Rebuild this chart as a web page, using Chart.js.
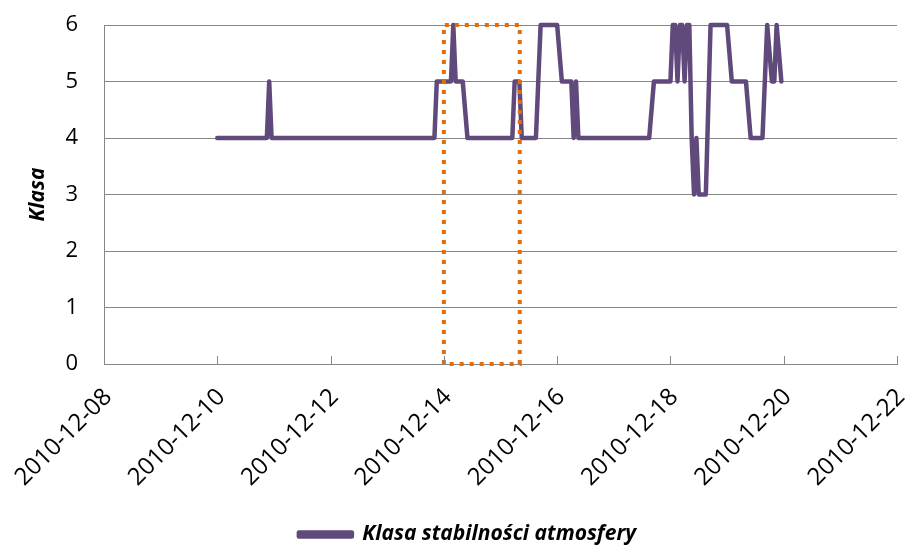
<!DOCTYPE html>
<html>
<head>
<meta charset="utf-8">
<script src="https://cdn.jsdelivr.net/npm/chart.js@4"></script>
<style>
  html, body { margin: 0; padding: 0; background: #fff; }
  #wrap { width: 906px; height: 545px; }
</style>
</head>
<body>
<div id="wrap"><canvas id="chart" width="906" height="545"></canvas></div>
<script>
// hours counted from 2010-12-10 00:00, and the class at that hour
const hours = [0, 21, 22, 23, 92, 93, 99, 100, 101, 104, 106, 125, 126, 128, 129, 135, 137, 144, 146,
    150, 151, 152, 153, 183, 185, 192, 193, 194, 195, 196, 197, 198, 199, 200, 201, 202, 203, 204,
    207, 209, 216, 218, 224, 226, 231, 233, 235, 236, 237, 239];
const classes = [4, 4, 5, 4, 4, 5, 5, 6, 5, 5, 4, 4, 5, 5, 4, 4, 6, 6, 5,
    5, 4, 5, 4, 4, 5, 5, 6, 6, 5, 6, 6, 5, 6, 6, 4, 3, 4, 3,
    3, 6, 6, 5, 5, 4, 4, 6, 5, 5, 6, 5];

const startDay = 10;              // day of December where the series starts
const tickDays = [8, 10, 12, 14, 16, 18, 20, 22];
const tickLabels = ["2010-12-08", "2010-12-10", "2010-12-12", "2010-12-14",
    "2010-12-16", "2010-12-18", "2010-12-20", "2010-12-22"];
const yTicks = [0, 1, 2, 3, 4, 5, 6];

// highlighted period (days of December) and its class range
const boxDays = [14.0, 15.34];
const boxClasses = [0, 6];

const seriesName = "Klasa stabilności atmosfery";
const lineColor = "#604a7b";
const boxColor = "#e46c0a";
const gridColor = "#868686";
const fontFamily = "'Open Sans', Lato, sans-serif";

let points = hours.map((h, i) => ({ x: startDay + h / 24, y: classes[i] }));
let boxPoints = [
    { x: boxDays[0], y: boxClasses[0] },
    { x: boxDays[0], y: boxClasses[1] },
    { x: boxDays[1], y: boxClasses[1] },
    { x: boxDays[1], y: boxClasses[0] },
    { x: boxDays[0], y: boxClasses[0] }
];

// small tick marks pointing up into the plot from the x axis
const innerTicks = {
    id: 'innerTicks',
    afterDraw(chart) {
        const ctx = chart.ctx;
        const x = chart.scales.x;
        const bottom = chart.chartArea.bottom;
        ctx.save();
        ctx.strokeStyle = gridColor;
        ctx.lineWidth = 1;
        tickDays.forEach(d => {
            let px = Math.round(x.getPixelForValue(d)) + 0.5;
            ctx.beginPath();
            ctx.moveTo(px, bottom);
            ctx.lineTo(px, bottom - 8);
            ctx.stroke();
        });
        ctx.restore();
    }
};

new Chart(document.getElementById('chart'), {
    type: 'line',
    data: {
        datasets: [
            {
                label: 'box',
                data: boxPoints,
                borderColor: boxColor,
                borderWidth: 4,
                borderDash: [4, 6],
                borderCapStyle: 'butt',
                pointRadius: 0,
                fill: false,
                tension: 0,
                clip: false
            },
            {
                label: seriesName,
                data: points,
                borderColor: lineColor,
                backgroundColor: lineColor,
                borderWidth: 4.5,
                borderJoinStyle: 'round',
                borderCapStyle: 'round',
                pointRadius: 0,
                fill: false,
                tension: 0,
                clip: false
            }
        ]
    },
    options: {
        responsive: false,
        animation: false,
        layout: { padding: { left: 38, right: 9, top: 25, bottom: -10 } },
        scales: {
            x: {
                type: 'linear',
                min: tickDays[0],
                max: tickDays[tickDays.length - 1],
                afterBuildTicks: s => { s.ticks = tickDays.map(v => ({ value: v })); },
                afterFit: s => { s.height = 159; s.paddingLeft = 0; s.paddingRight = 0; },
                grid: { display: false, drawTicks: false },
                border: { display: true, color: gridColor, width: 1 },
                ticks: {
                    minRotation: 45,
                    maxRotation: 45,
                    padding: 19,
                    labelOffset: 4,
                    color: '#000',
                    font: { family: fontFamily, size: 24 },
                    callback: v => tickLabels[tickDays.indexOf(v)]
                }
            },
            y: {
                min: 0,
                max: 6,
                afterBuildTicks: s => { s.ticks = yTicks.map(v => ({ value: v })); },
                afterFit: s => { s.width = 66; s.paddingTop = 0; s.paddingBottom = 0; },
                grid: { color: gridColor, drawTicks: false },
                border: { display: true, color: gridColor, width: 1 },
                ticks: {
                    padding: 26,
                    color: '#000',
                    font: { family: fontFamily, size: 22 }
                },
                title: {
                    display: true,
                    text: 'Klasa',
                    color: '#000',
                    padding: { top: -13, bottom: 0 },
                    font: { family: fontFamily, size: 21, style: 'italic', weight: 'bold' }
                }
            }
        },
        plugins: {
            legend: {
                position: 'bottom',
                labels: {
                    filter: item => item.datasetIndex === 1,
                    boxWidth: 53,
                    boxHeight: 4,
                    padding: 1,
                    color: '#000',
                    font: { family: fontFamily, size: 21, style: 'italic', weight: 'bold' }
                }
            },
            tooltip: { enabled: false }
        }
    },
    plugins: [innerTicks]
});
</script>
</body>
</html>
